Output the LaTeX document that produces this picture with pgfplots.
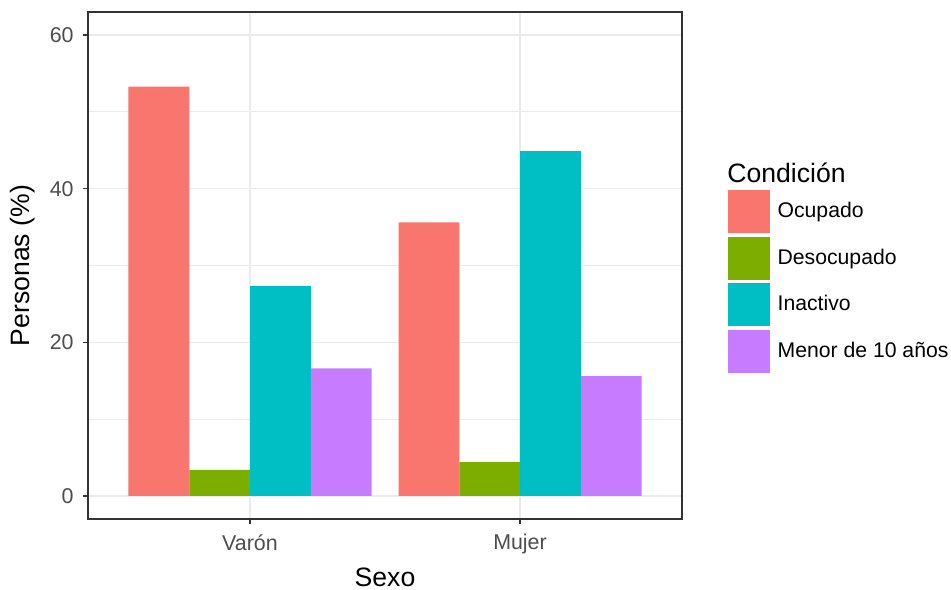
\documentclass[border=0pt]{standalone}
\usepackage{fontspec}
\setmainfont{Liberation Sans}
\usepackage{pgfplots}
\pgfplotsset{compat=1.18}
\definecolor{cOcu}{HTML}{F8766D}
\definecolor{cDes}{HTML}{7CAE00}
\definecolor{cIna}{HTML}{00BFC4}
\definecolor{cMen}{HTML}{C77CFF}
\definecolor{gridc}{HTML}{EBEBEB}
\definecolor{frame}{HTML}{333333}
\definecolor{ticktxt}{HTML}{4D4D4D}
\begin{document}
\begin{tikzpicture}
\useasboundingbox (0,0) rectangle (475.5pt,294.5pt);
\begin{axis}[
  at={(44pt,35pt)}, anchor=south west,
  width=297pt, height=253.5pt, scale only axis,
  xmin=0.4, xmax=2.6, ymin=-3, ymax=63,
  xtick={1,2}, xticklabels={Varón,Mujer},
  ytick={0,20,40,60}, minor ytick={10,30,50},
  grid=both,
  major grid style={gridc, line width=0.7pt},
  minor grid style={gridc, line width=0.4pt},
  axis line style={frame, line width=0.65pt},
  tick style={frame, line width=0.65pt},
  major tick length=2.5pt, minor tick length=0pt,
  tick align=outside, xtick pos=bottom, ytick pos=left,
  /pgf/number format/assume math mode=true,
  tick label style={font=\fontsize{10.7}{12}\selectfont, text=ticktxt},
  yticklabel style={inner sep=0pt, xshift=-4.5pt},
  xticklabel style={inner sep=0pt, anchor=north, yshift=-5pt},
  xlabel={Sexo}, ylabel={Personas (\%)},
  label style={font=\fontsize{13.3}{15}\selectfont},
  xlabel style={at={(axis description cs:0.5,0)}, anchor=center, yshift=-29pt},
  ylabel style={at={(axis description cs:0,0.5)}, anchor=center, yshift=32.5pt},
  ybar=0pt, bar width=0.225,
  legend style={draw=none, fill=none, at={(axis description cs:1.066,0.5)}, anchor=north west,
    yshift=40pt,
    font=\fontsize{10.6}{12}\selectfont,
    row sep=1.85pt, column sep=4pt,
    nodes={inner sep=0pt, anchor=west}},
  legend cell align=left,
  legend image code/.code={\fill[#1] (0pt,-10.75pt) rectangle (21pt,10.75pt);},
]
\addplot[fill=cOcu, draw=none, bar shift=-0.3375] coordinates {(1,53.3) (2,35.6)};
\addplot[fill=cDes, draw=none, bar shift=-0.1125] coordinates {(1,3.4) (2,4.4)};
\addplot[fill=cIna, draw=none, bar shift=0.1125] coordinates {(1,27.3) (2,44.9)};
\addplot[fill=cMen, draw=none, bar shift=0.3375] coordinates {(1,16.6) (2,15.6)};
\legend{Ocupado,Desocupado,Inactivo,Menor de 10 años}
\end{axis}
\node[anchor=base west, font=\fontsize{13.3}{15}\selectfont, inner sep=0pt] at (363.5pt,203pt) {Condición};
\end{tikzpicture}
\end{document}
